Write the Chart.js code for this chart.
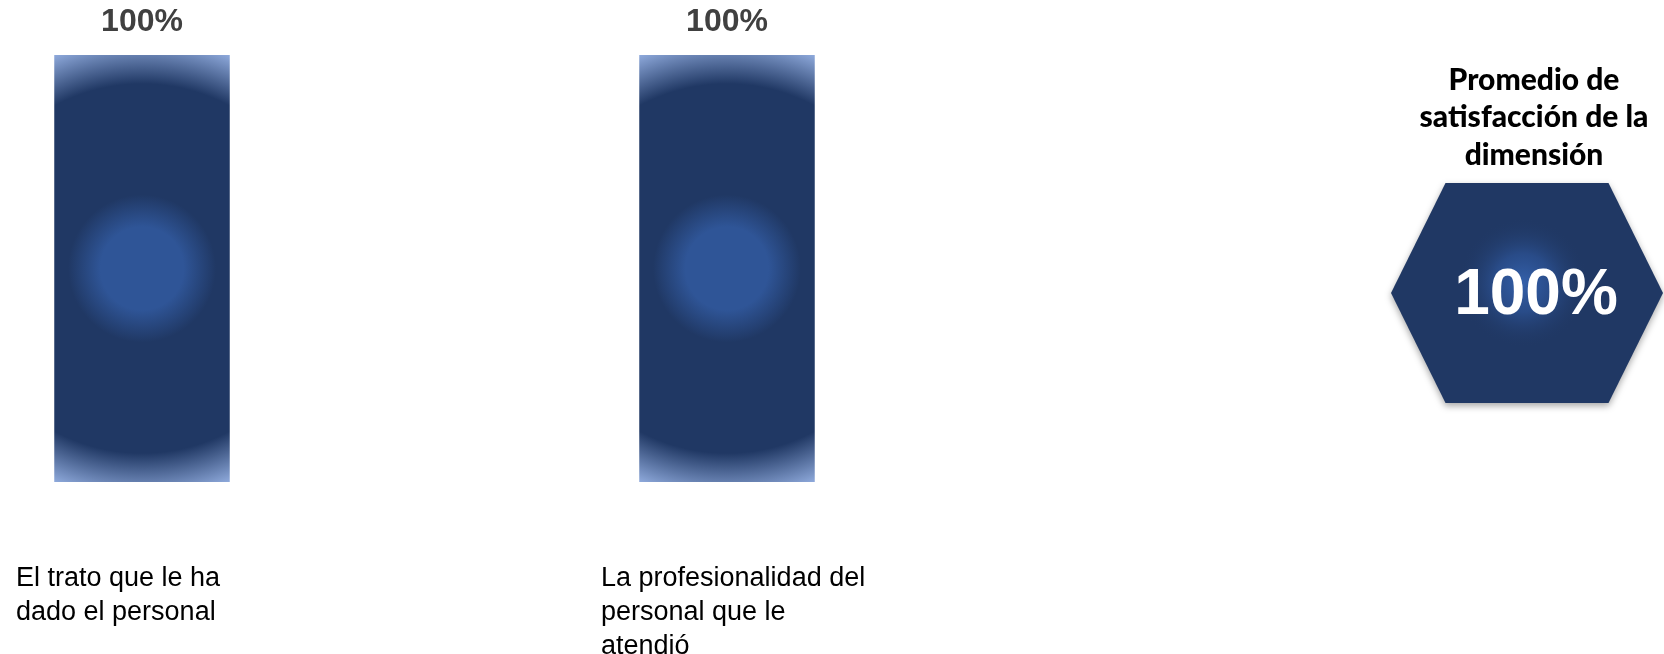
<!DOCTYPE html>
<html>
<head>
<meta charset="utf-8">
<script src="https://cdn.jsdelivr.net/npm/chart.js@4/dist/chart.umd.min.js"></script>
<style>
  html, body { margin: 0; padding: 0; background: #ffffff; }
  #wrap { position: relative; width: 1664px; height: 654px; }
</style>
</head>
<body>
<div id="wrap"><canvas id="satisfaccion"></canvas></div>
<script>
var categorias = [
    ['El trato que le ha', 'dado el personal'],
    ['La profesionalidad del', 'personal que le', 'atendió']
];
var porcentajes = [100, 100];
var tituloPromedio = ['Promedio de', 'satisfacción de la', 'dimensión'];

var azulOscuro = '#203864';
var azulCentro = '#2f5597';
var azulClaro = '#8faadc';

var promedio = () => {
    var s = 0;
    porcentajes.forEach((v) => { s += v; });
    return Math.round(s / porcentajes.length);
};

// fill for each bar: light glow in the middle, dark body, pale corners
var rellenoBarra = (c) => {
    var chart = c.chart;
    var x = chart.scales.x, y = chart.scales.y;
    if (c.type !== 'data' || !x || !y) {
        return azulOscuro;
    }
    var cx = x.getPixelForValue(c.dataIndex);
    var top = y.getPixelForValue(porcentajes[c.dataIndex]);
    var base = y.getPixelForValue(0);
    var paso = x.getPixelForValue(1) - x.getPixelForValue(0);
    if (![cx, top, base, paso].every(isFinite) || base - top <= 0) {
        return azulOscuro;
    }
    var cy = (top + base) / 2;
    var mitadAncho = paso * 0.3 / 2;
    var r = Math.sqrt(mitadAncho * mitadAncho + (base - cy) * (base - cy));
    var g = chart.ctx.createRadialGradient(cx, cy, 0, cx, cy, r);
    g.addColorStop(0, azulCentro);
    g.addColorStop(0.18, azulCentro);
    g.addColorStop(0.32, azulOscuro);
    g.addColorStop(0.8, azulOscuro);
    g.addColorStop(1, azulClaro);
    return g;
};

var etiquetasValor = {
    id: 'etiquetasValor',
    afterDatasetsDraw: (chart) => {
        var ctx = chart.ctx;
        var meta = chart.getDatasetMeta(0);
        ctx.save();
        ctx.font = 'bold 32px "Liberation Sans", Arial, sans-serif';
        ctx.fillStyle = '#404040';
        ctx.textAlign = 'center';
        ctx.textBaseline = 'middle';
        meta.data.forEach((bar, i) => {
            ctx.fillText(porcentajes[i] + '%', bar.x, bar.y - 33);
        });
        ctx.restore();
    }
};

// hexagon badge with the dimension average
var hexagono = {
    id: 'hexagono',
    afterDraw: (chart) => {
        var ctx = chart.ctx;
        var cx = 1527, cy = 293, hw = 136, hh = 110, tw = 81.5;
        ctx.save();
        ctx.font = '900 30px Lato, "Liberation Sans", sans-serif';
        ctx.fillStyle = '#000000';
        ctx.textAlign = 'center';
        ctx.textBaseline = 'middle';
        tituloPromedio.forEach((linea, i) => {
            ctx.fillText(linea, 1534, 80 + i * 37.5);
        });

        ctx.beginPath();
        ctx.moveTo(cx - tw, cy - hh);
        ctx.lineTo(cx + tw, cy - hh);
        ctx.lineTo(cx + hw, cy);
        ctx.lineTo(cx + tw, cy + hh);
        ctx.lineTo(cx - tw, cy + hh);
        ctx.lineTo(cx - hw, cy);
        ctx.closePath();
        ctx.shadowColor = 'rgba(0, 0, 0, 0.35)';
        ctx.shadowBlur = 7;
        ctx.shadowOffsetY = 3;
        ctx.fillStyle = azulOscuro;
        ctx.fill();
        ctx.shadowColor = 'transparent';

        var g = ctx.createRadialGradient(cx - 4, cy - 10, 0, cx - 4, cy - 10, 65);
        g.addColorStop(0, 'rgba(52, 96, 170, 1)');
        g.addColorStop(0.45, 'rgba(44, 82, 148, 0.75)');
        g.addColorStop(1, 'rgba(32, 56, 100, 0)');
        ctx.fillStyle = g;
        ctx.fill();

        ctx.font = 'bold 64px "Liberation Sans", Arial, sans-serif';
        ctx.fillStyle = '#ffffff';
        ctx.fillText(promedio() + '%', 1536, 296);
        ctx.restore();
    }
};

new Chart(
    document.getElementById('satisfaccion'),
    {
        type: 'bar',
        data: {
            labels: categorias,
            datasets: [{
                data: porcentajes,
                backgroundColor: rellenoBarra,
                borderWidth: 0,
                barPercentage: 0.3,
                categoryPercentage: 1,
                clip: false
            }]
        },
        options: {
            responsive: true,
            maintainAspectRatio: false,
            animation: false,
            layout: {
                padding: { left: 142, right: 937, top: 55, bottom: 0 }
            },
            plugins: {
                legend: { display: false },
                tooltip: { enabled: false }
            },
            scales: {
                y: {
                    display: false,
                    min: 0,
                    max: 100
                },
                x: {
                    offset: false,
                    grid: { display: false, drawTicks: false },
                    border: { display: false },
                    afterFit: (scale) => {
                        scale.height = 172;
                    },
                    ticks: {
                        align: 'start',
                        labelOffset: -126,
                        padding: 80,
                        maxRotation: 0,
                        autoSkip: false,
                        color: '#000000',
                        font: {
                            family: '"Liberation Sans", Arial, sans-serif',
                            size: 27,
                            lineHeight: 1.25
                        }
                    }
                }
            }
        },
        plugins: [etiquetasValor, hexagono]
    }
);
</script>
</body>
</html>
